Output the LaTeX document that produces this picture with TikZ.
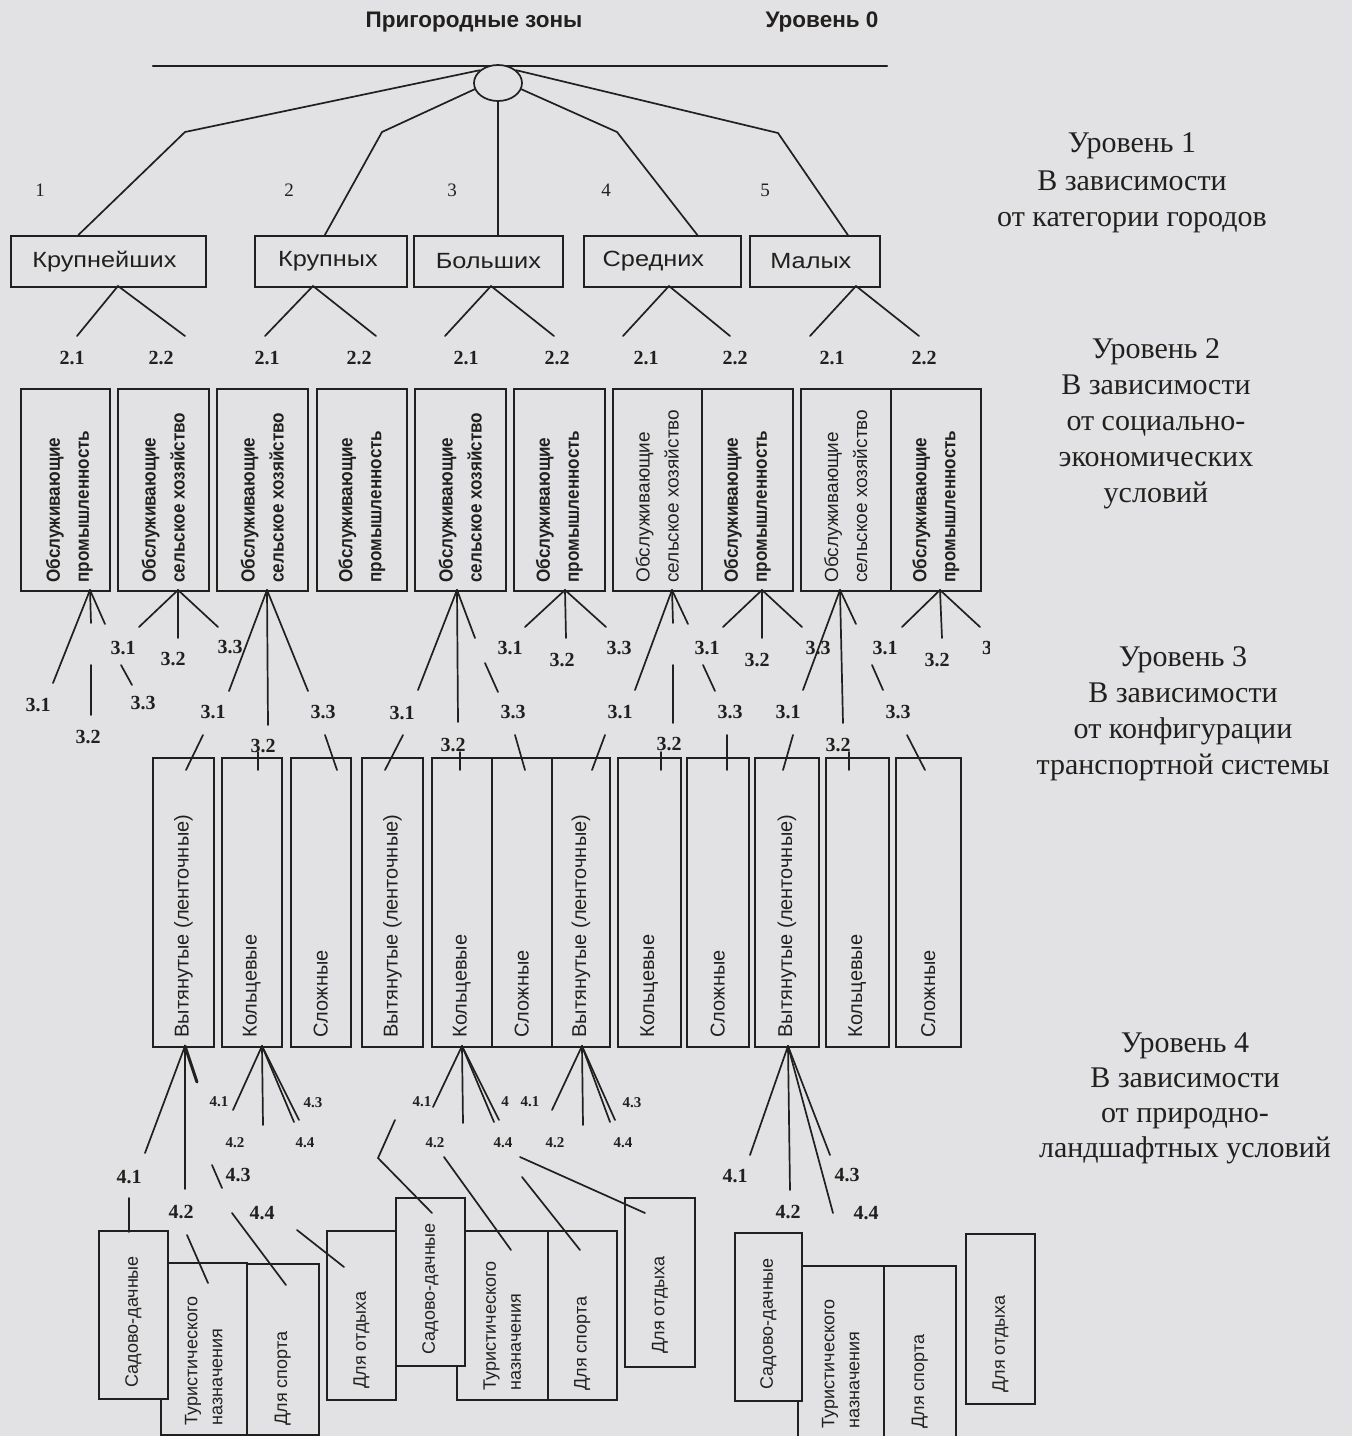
\documentclass[tikz,border=0pt]{standalone}
\usepackage{fontspec}
\setmainfont{Liberation Serif}
\newfontfamily\sansf{Liberation Sans}
\newfontfamily\sansn[FakeStretch=0.9]{Liberation Sans}
\newfontfamily\sansw[FakeStretch=1.15]{Liberation Sans}
\usetikzlibrary{shapes.geometric}
\definecolor{bg}{RGB}{226,226,228}
\definecolor{ink}{RGB}{34,32,30}
\begin{document}
\begin{tikzpicture}[x=1pt,y=-1pt,
  ln/.style={draw=ink,line width=1.7pt,line cap=round},
  lnw/.style={draw=ink,line width=3pt,line cap=round},
  bx/.style={draw=ink,line width=1.7pt,fill=bg,inner sep=0pt,anchor=north west},
  lvl/.style={font=\fontsize{30}{36}\selectfont,text=ink,anchor=base,inner sep=0pt},
  num/.style={font=\fontsize{19}{19}\selectfont,text=ink,inner sep=0pt},
  lab/.style={font=\bfseries\fontsize{20}{20}\selectfont,text=ink,inner sep=0pt},
  labs/.style={font=\bfseries\fontsize{15}{15}\selectfont,text=ink,inner sep=0pt},
  t0/.style={font=\sansf\bfseries\fontsize{22.5}{24}\selectfont,text=ink,inner sep=0pt},
  t1/.style={font=\sansw\fontsize{22}{24}\selectfont,text=ink,inner sep=0pt},
  t2b/.style={rotate=90,anchor=west,align=left,font=\sansn\bfseries\fontsize{19}{29}\selectfont,text=ink,inner sep=0pt},
  t2r/.style={rotate=90,anchor=west,align=left,font=\sansf\fontsize{19}{29}\selectfont,text=ink,inner sep=0pt},
  t3/.style={rotate=90,anchor=west,font=\sansf\fontsize{20}{22}\selectfont,text=ink,inner sep=0pt},
  t4/.style={rotate=90,anchor=west,align=left,font=\sansf\fontsize{18}{25}\selectfont,text=ink,inner sep=0pt},
]
\fill[bg] (0,0) rectangle (1352,1436);
\useasboundingbox (0,0) rectangle (1352,1436);

% ---------- level 0 ----------
\node[t0] (title) at (474,22) {Пригородные зоны};
\node[t0] (lvl0) at (822,22) {Уровень 0};
\coordinate (hl) at (153,66);
\coordinate (hr) at (887,66);
\draw[ln,line width=2.2pt] (hl) -- (hr);
\node[draw=ink,line width=1.7pt,fill=bg,ellipse,minimum width=48pt,minimum height=36pt,inner sep=0pt] (root) at (498,83) {};

% ---------- level 1 boxes ----------
\node[bx,minimum width=195pt,minimum height=51pt] (k1) at (10,235) {};
\node[bx,minimum width=152pt,minimum height=51pt] (k2) at (254,235) {};
\node[bx,minimum width=149pt,minimum height=51pt] (k3) at (413,235) {};
\node[bx,minimum width=157pt,minimum height=51pt] (k4) at (583,235) {};
\node[bx,minimum width=130pt,minimum height=51pt] (k5) at (749,235) {};
\node[t1] (k1t) at ([xshift=-4pt]k1.center) {Крупнейших};
\node[t1] (k2t) at ([xshift=-3pt]k2.center) {Крупных};
\node[t1] (k3t) at (k3.center) {Больших};
\node[t1] (k4t) at ([xshift=-9pt]k4.center) {Средних};
\node[t1] (k5t) at ([xshift=-4pt]k5.center) {Малых};

% level 1 connectors
\draw[ln] (root.145) -- (185,132) -- ([xshift=-30pt]k1.north);
\draw[ln] (root.195) -- (382,132) -- ([xshift=-6pt]k2.north);
\draw[ln] (root.south) -- (k3.north -| root.south);
\draw[ln] (root.345) -- (617,132) -- ([xshift=35pt]k4.north);
\draw[ln] (root.35) -- (778,133) -- ([xshift=33pt]k5.north);

\node[num] (n1) at (40,190) {1};
\node[num] (n2) at (289,190) {2};
\node[num] (n3) at (452,190) {3};
\node[num] (n4) at (606,190) {4};
\node[num] (n5) at (765,190) {5};

% level 1 -> 2
\coordinate (v1) at (118,286);
\coordinate (v2) at (313,286);
\coordinate (v3) at (491,286);
\coordinate (v4) at (669,286);
\coordinate (v5) at (856,286);
\draw[ln] (77,336) -- (v1) -- (185,336);
\draw[ln] (265,336) -- (v2) -- (376,336);
\draw[ln] (445,336) -- (v3) -- (554,336);
\draw[ln] (623,336) -- (v4) -- (730,336);
\draw[ln] (810,336) -- (v5) -- (919,336);
\foreach \x/\t [count=\i] in {72/2.1,161/2.2,267/2.1,359/2.2,466/2.1,557/2.2,646/2.1,735/2.2,832/2.1,924/2.2}
  \node[lab] (l2n\i) at (\x,358) {\t};

% ---------- level 2 boxes ----------
\node[bx,minimum width=89pt,minimum height=202pt] (b1) at (20,388) {};
\node[bx,minimum width=91pt,minimum height=202pt] (b2) at (117,388) {};
\node[bx,minimum width=91pt,minimum height=202pt] (b3) at (216,388) {};
\node[bx,minimum width=90pt,minimum height=202pt] (b4) at (316,388) {};
\node[bx,minimum width=91pt,minimum height=202pt] (b5) at (414,388) {};
\node[bx,minimum width=91pt,minimum height=202pt] (b6) at (513,388) {};
\node[bx,minimum width=89pt,minimum height=202pt] (b7) at (612,388) {};
\node[bx,minimum width=91pt,minimum height=202pt] (b8) at (701,388) {};
\node[bx,minimum width=90pt,minimum height=202pt] (b9) at (800,388) {};
\node[bx,minimum width=90pt,minimum height=202pt] (b10) at (890,388) {};
\node[t2b] (b1t) at ([xshift=4pt,yshift=9pt]b1.south) {Обслуживающие\\промышленность};
\node[t2b] (b2t) at ([yshift=9pt]b2.south) {Обслуживающие\\сельское хозяйство};
\node[t2b] (b3t) at ([yshift=9pt]b3.south) {Обслуживающие\\сельское хозяйство};
\node[t2b] (b4t) at ([yshift=9pt]b4.south) {Обслуживающие\\промышленность};
\node[t2b] (b5t) at ([yshift=9pt]b5.south) {Обслуживающие\\сельское хозяйство};
\node[t2b] (b6t) at ([yshift=9pt]b6.south) {Обслуживающие\\промышленность};
\node[t2r] (b7t) at ([yshift=9pt]b7.south) {Обслуживающие\\сельское хозяйство};
\node[t2b] (b8t) at ([yshift=9pt]b8.south) {Обслуживающие\\промышленность};
\node[t2r] (b9t) at ([yshift=9pt]b9.south) {Обслуживающие\\сельское хозяйство};
\node[t2b] (b10t) at ([yshift=9pt]b10.south) {Обслуживающие\\промышленность};

% level 2 -> 3
\coordinate (w1) at (90,590);
\draw[ln] (w1) -- (53,683); \draw[ln] (w1) -- (91,623); \draw[ln] (w1) -- (105,624);
\draw[ln] (91,665) -- (91,715); \draw[ln] (121,665) -- (132,685);
\node[lab] (w1a) at (38,705) {3.1}; \node[lab] (w1b) at (88,737) {3.2}; \node[lab] (w1c) at (143,703) {3.3};

\coordinate (w2) at (178,590);
\draw[ln] (w2) -- (139,627); \draw[ln] (w2) -- (178,638); \draw[ln] (w2) -- (218,627);
\node[lab] (w2a) at (123,648) {3.1}; \node[lab] (w2b) at (173,659) {3.2}; \node[lab] (w2c) at (230,647) {3.3};

\coordinate (w3) at (267,590);
\draw[ln] (w3) -- (229,691); \draw[ln] (w3) -- (268,725); \draw[ln] (w3) -- (308,691);
\node[lab] (w3a) at (213,712) {3.1}; \node[lab] (w3b) at (263,746) {3.2}; \node[lab] (w3c) at (323,712) {3.3};

\coordinate (w5) at (457,590);
\draw[ln] (w5) -- (418,690); \draw[ln] (w5) -- (458,722); \draw[ln] (w5) -- (475,638);
\draw[ln] (485,663) -- (498,692);
\node[lab] (w5a) at (402,713) {3.1}; \node[lab] (w5b) at (453,745) {3.2}; \node[lab] (w5c) at (513,712) {3.3};

\coordinate (w6) at (565,590);
\draw[ln] (w6) -- (525,627); \draw[ln] (w6) -- (566,638); \draw[ln] (w6) -- (606,627);
\node[lab] (w6a) at (510,648) {3.1}; \node[lab] (w6b) at (562,660) {3.2}; \node[lab] (w6c) at (619,648) {3.3};

\coordinate (w7) at (672,590);
\draw[ln] (w7) -- (635,690); \draw[ln] (w7) -- (673,623); \draw[ln] (w7) -- (688,624);
\draw[ln] (673,665) -- (673,723); \draw[ln] (703,665) -- (715,691);
\node[lab] (w7a) at (620,712) {3.1}; \node[lab] (w7b) at (669,744) {3.2}; \node[lab] (w7c) at (730,712) {3.3};

\coordinate (w8) at (762,590);
\draw[ln] (w8) -- (723,627); \draw[ln] (w8) -- (762,638); \draw[ln] (w8) -- (802,627);
\node[lab] (w8a) at (707,648) {3.1}; \node[lab] (w8b) at (757,660) {3.2}; \node[lab] (w8c) at (818,648) {3.3};

\coordinate (w9) at (840,590);
\draw[ln] (w9) -- (803,690); \draw[ln] (w9) -- (843,723); \draw[ln] (w9) -- (856,624);
\draw[ln] (872,665) -- (883,690);
\node[lab] (w9a) at (788,712) {3.1}; \node[lab] (w9b) at (838,745) {3.2}; \node[lab] (w9c) at (898,712) {3.3};

\coordinate (w10) at (940,590);
\draw[ln] (w10) -- (902,627); \draw[ln] (w10) -- (942,638); \draw[ln] (w10) -- (980,627);
\node[lab] (w10a) at (885,648) {3.1}; \node[lab] (w10b) at (937,660) {3.2};
\begin{scope}
\clip (975,630) rectangle (989,670);
\node[lab,anchor=west] (w10c) at (982,648) {3.3};
\end{scope}

% ---------- level 3 boxes ----------
\node[bx,minimum width=61pt,minimum height=289pt] (B1) at (152,757) {};
\node[bx,minimum width=60pt,minimum height=289pt] (B2) at (221,757) {};
\node[bx,minimum width=60pt,minimum height=289pt] (B3) at (290,757) {};
\node[bx,minimum width=61pt,minimum height=289pt] (B4) at (361,757) {};
\node[bx,minimum width=60pt,minimum height=289pt] (B5) at (431,757) {};
\node[bx,minimum width=60pt,minimum height=289pt] (B6) at (491,757) {};
\node[bx,minimum width=58pt,minimum height=289pt] (B7) at (551,757) {};
\node[bx,minimum width=63pt,minimum height=289pt] (B8) at (617,757) {};
\node[bx,minimum width=62pt,minimum height=289pt] (B9) at (686,757) {};
\node[bx,minimum width=64pt,minimum height=289pt] (B10) at (754,757) {};
\node[bx,minimum width=63pt,minimum height=289pt] (B11) at (825,757) {};
\node[bx,minimum width=65pt,minimum height=289pt] (B12) at (895,757) {};
\node[t3] (B1t) at ([yshift=10pt]B1.south) {Вытянутые (ленточные)};
\node[t3] (B2t) at ([yshift=10pt]B2.south) {Кольцевые};
\node[t3] (B3t) at ([yshift=10pt]B3.south) {Сложные};
\node[t3] (B4t) at ([yshift=10pt]B4.south) {Вытянутые (ленточные)};
\node[t3] (B5t) at ([yshift=10pt]B5.south) {Кольцевые};
\node[t3] (B6t) at ([yshift=10pt]B6.south) {Сложные};
\node[t3] (B7t) at ([yshift=10pt]B7.south) {Вытянутые (ленточные)};
\node[t3] (B8t) at ([yshift=10pt]B8.south) {Кольцевые};
\node[t3] (B9t) at ([yshift=10pt]B9.south) {Сложные};
\node[t3] (B10t) at ([yshift=10pt]B10.south) {Вытянутые (ленточные)};
\node[t3] (B11t) at ([yshift=10pt]B11.south) {Кольцевые};
\node[t3] (B12t) at ([yshift=10pt]B12.south) {Сложные};

% stubs into level 3 boxes
\draw[ln] (203,735) -- (186,770);
\draw[ln] (258,752) -- (258,770);
\draw[ln] (325,735) -- (337,770);
\draw[ln] (403,735) -- (385,770);
\draw[ln] (460,752) -- (460,770);
\draw[ln] (515,735) -- (525,770);
\draw[ln] (605,735) -- (592,770);
\draw[ln] (661,752) -- (661,770);
\draw[ln] (727,735) -- (727,770);
\draw[ln] (793,735) -- (783,770);
\draw[ln] (849,752) -- (849,770);
\draw[ln] (907,735) -- (925,770);

% ---------- level 4 boxes ----------
\node[bx,minimum width=86pt,minimum height=172pt] (Tu1) at (160,1262) {};
\node[bx,minimum width=72pt,minimum height=171pt] (Sp1) at (246,1263) {};
\node[bx,minimum width=69pt,minimum height=168pt] (Sa1) at (98,1230) {};
\node[bx,minimum width=69pt,minimum height=169pt] (Ot1) at (326,1230) {};
\node[bx,minimum width=91pt,minimum height=169pt] (Tu2) at (456,1230) {};
\node[bx,minimum width=69pt,minimum height=169pt] (Sp2) at (547,1230) {};
\node[bx,minimum width=69pt,minimum height=168pt] (Sa2) at (395,1197) {};
\node[bx,minimum width=70pt,minimum height=169pt] (Ot2) at (624,1197) {};
\node[bx,minimum width=86pt,minimum height=172pt] (Tu3) at (797,1265) {};
\node[bx,minimum width=72pt,minimum height=172pt] (Sp3) at (883,1265) {};
\node[bx,minimum width=67pt,minimum height=168pt] (Sa3) at (734,1232) {};
\node[bx,minimum width=69pt,minimum height=170pt] (Ot3) at (965,1233) {};
\node[t4] (Tu1t) at ([yshift=10pt]Tu1.south) {Туристического\\назначения};
\node[t4] (Sp1t) at ([yshift=10pt]Sp1.south) {Для спорта};
\node[t4] (Sa1t) at ([yshift=12pt]Sa1.south) {Садово-дачные};
\node[t4] (Ot1t) at ([yshift=12pt]Ot1.south) {Для отдыха};
\node[t4] (Tu2t) at ([yshift=10pt]Tu2.south) {Туристического\\назначения};
\node[t4] (Sp2t) at ([yshift=10pt]Sp2.south) {Для спорта};
\node[t4] (Sa2t) at ([yshift=12pt]Sa2.south) {Садово-дачные};
\node[t4] (Ot2t) at ([yshift=14pt]Ot2.south) {Для отдыха};
\node[t4] (Tu3t) at ([yshift=10pt]Tu3.south) {Туристического\\назначения};
\node[t4] (Sp3t) at ([yshift=10pt]Sp3.south) {Для спорта};
\node[t4] (Sa3t) at ([yshift=12pt]Sa3.south) {Садово-дачные};
\node[t4] (Ot3t) at ([yshift=12pt]Ot3.south) {Для отдыха};

% level 3 -> 4
\coordinate (u1) at (185,1046);
\draw[ln] (u1) -- (145,1153); \draw[ln] (u1) -- (185,1189); \draw[lnw] (u1) -- (197,1082);
\node[lab] (u1a) at (129,1177) {4.1}; \node[lab] (u1b) at (181,1212) {4.2};
\node[lab] (u1c) at (238,1175) {4.3}; \node[lab] (u1d) at (262,1213) {4.4};
\draw[ln] (129,1198) -- (129,1232);
\draw[ln] (187,1235) -- (208,1283);
\draw[ln] (212,1165) -- (222,1188);
\draw[ln] (232,1213) -- (286,1285);
\draw[ln] (297,1230) -- (344,1267);

\coordinate (u2) at (262,1046);
\draw[ln] (u2) -- (233,1110); \draw[ln] (u2) -- (263,1125);
\draw[ln] (u2) -- (294,1122); \draw[ln] (u2) -- (299,1120);
\node[labs] (u2a) at (219,1102) {4.1}; \node[labs] (u2c) at (313,1103) {4.3};
\node[labs] (u2b) at (235,1143) {4.2}; \node[labs] (u2d) at (305,1143) {4.4};

\coordinate (u5) at (462,1046);
\draw[ln] (u5) -- (433,1107); \draw[ln] (u5) -- (463,1123);
\draw[ln] (u5) -- (494,1122); \draw[ln] (u5) -- (499,1120);
\node[labs] (u5a) at (422,1102) {4.1}; \node[labs] (u5c) at (505,1102) {4};
\node[labs] (u5b) at (435,1143) {4.2}; \node[labs] (u5d) at (503,1143) {4.4};
\draw[ln] (395,1120) -- (378,1158) -- (432,1213);
\draw[ln] (444,1157) -- (511,1250);
\draw[ln] (522,1177) -- (580,1250);
\draw[ln] (520,1157) -- (645,1213);

\coordinate (u7) at (582,1046);
\draw[ln] (u7) -- (552,1110); \draw[ln] (u7) -- (583,1125);
\draw[ln] (u7) -- (610,1122); \draw[ln] (u7) -- (615,1120);
\node[labs] (u7a) at (530,1102) {4.1}; \node[labs] (u7c) at (632,1103) {4.3};
\node[labs] (u7b) at (555,1143) {4.2}; \node[labs] (u7d) at (623,1143) {4.4};

\coordinate (u10) at (788,1046);
\draw[ln] (u10) -- (750,1155); \draw[ln] (u10) -- (790,1190);
\draw[ln] (u10) -- (830,1155); \draw[ln] (u10) -- (833,1213);
\node[lab] (u10a) at (735,1176) {4.1}; \node[lab] (u10b) at (788,1212) {4.2};
\node[lab] (u10c) at (847,1175) {4.3}; \node[lab] (u10d) at (866,1213) {4.4};

% ---------- right-hand level texts ----------
\node[lvl] (r1a) at (1132,152) {Уровень 1};
\node[lvl] (r1b) at (1132,190) {В зависимости};
\node[lvl] (r1c) at (1132,226) {от категории городов};
\node[lvl] (r2a) at (1156,358) {Уровень 2};
\node[lvl] (r2b) at (1156,394) {В зависимости};
\node[lvl] (r2c) at (1156,430) {от социально-};
\node[lvl] (r2d) at (1156,466) {экономических};
\node[lvl] (r2e) at (1156,502) {условий};
\node[lvl] (r3a) at (1183,666) {Уровень 3};
\node[lvl] (r3b) at (1183,702) {В зависимости};
\node[lvl] (r3c) at (1183,738) {от конфигурации};
\node[lvl] (r3d) at (1183,774) {транспортной системы};
\node[lvl] (r4a) at (1185,1052) {Уровень 4};
\node[lvl] (r4b) at (1185,1087) {В зависимости};
\node[lvl] (r4c) at (1185,1122) {от природно-};
\node[lvl] (r4d) at (1185,1157) {ландшафтных условий};
\end{tikzpicture}
\end{document}
